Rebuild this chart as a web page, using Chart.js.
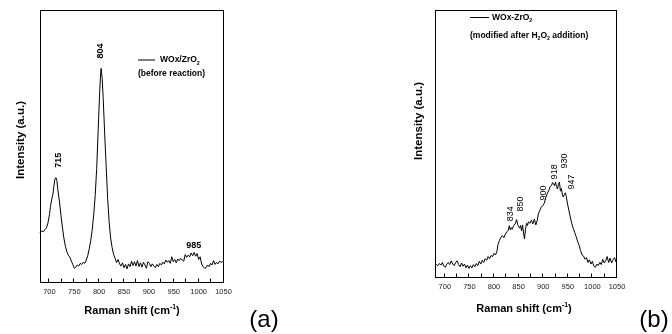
<!DOCTYPE html>
<html><head><meta charset="utf-8">
<script src="https://cdn.jsdelivr.net/npm/chart.js@4.4.1/dist/chart.umd.min.js"></script>
<style>
html,body{margin:0;padding:0;background:#fff;}
#wrap{position:relative;width:672px;height:334px;overflow:hidden;background:#fff;}
.pane{position:absolute;top:0;width:336px;height:334px;}
</style></head><body>
<div id="wrap">
<div class="pane" style="left:0"><canvas id="chartA" width="336" height="334"></canvas></div>
<div class="pane" style="left:336px"><canvas id="chartB" width="336" height="334"></canvas></div>
</div>
<script>
// ---------------- DATA ----------------
const ramanShiftA = [
680,684,688,691,694,697,700,702,705,707,
709,711,713,715,717,720,723,726,729,732,
735,738,741,744,747,750,753,756,759,762,
765,768,771,774,777,780,783,786,789,792,
795,798,801,803,804,806,808,811,814,817,
820,823,826,829,832,835,838,841,844,847,
850,853,856,859,862,865,868,871,874,877,
880,883,886,889,892,895,898,901,904,907,
910,913,916,919,922,925,928,931,934,937,
940,943,946,949,952,955,958,961,964,967,
970,973,976,979,982,985,988,991,994,997,
1000,1003,1006,1009,1012,1015,1018,1021,1024,1027,
1030,1033,1036,1039,1042,1045,1048,1050];
const intensityA = [
18.5,19.0,18.8,19.6,20.2,22.0,25.0,28.0,31.0,32.5,
35.5,38.0,38.6,37.5,34.0,30.0,25.0,20.5,16.5,13.5,
11.5,10.2,9.5,8.0,6.8,5.4,5.8,6.6,6.2,7.2,
6.8,7.6,7.2,8.4,10.0,12.5,15.5,19.5,25.0,32.0,
42.0,56.0,70.0,77.0,78.6,75.0,68.0,55.0,43.0,31.0,
22.5,16.5,13.0,10.5,9.0,7.5,8.6,7.0,6.2,7.4,
5.6,6.8,5.2,7.0,6.0,8.0,6.4,7.8,6.2,8.2,
6.0,7.4,5.8,7.6,6.6,5.4,7.8,7.2,6.0,7.0,
6.2,5.6,6.8,6.0,7.2,6.6,7.6,7.0,8.4,7.6,
8.2,7.2,9.6,7.8,8.6,7.4,8.8,8.2,9.0,8.4,
8.0,10.4,9.4,10.2,9.6,11.0,10.0,11.2,9.8,10.8,
8.6,9.6,7.0,6.0,5.4,5.6,6.6,6.0,7.2,6.6,
8.2,6.8,7.6,7.0,8.0,7.6,7.8,8.0];

const ramanShiftB = [
680,683,686,689,692,695,698,701,704,707,
710,713,716,719,722,725,728,731,734,737,
740,743,746,749,752,755,758,761,764,767,
770,773,776,779,782,785,788,791,794,797,
800,803,806,808,811,814,817,820,823,826,
829,831,833,835,837,840,843,846,848,850,
852,854,856,858,860,862,864,866,868,870,
873,876,879,882,885,888,890,893,896,899,
902,905,908,911,914,917,919,921,923,925,
927,929,931,933,935,937,939,941,943,945,
947,949,952,955,958,961,964,967,970,973,
976,979,982,985,988,991,994,997,1000,1003,
1006,1009,1012,1015,1018,1021,1024,1027,1030,1033,
1036,1039,1042,1045,1048,1050];
const intensityB = [
5.5,5.0,4.6,5.4,4.8,5.8,4.4,4.0,5.2,5.8,
5.0,6.4,5.2,4.6,5.8,6.4,5.0,4.2,5.6,4.4,
5.2,3.8,4.8,3.6,4.6,3.8,5.0,4.2,5.4,4.6,
6.2,5.2,6.6,5.8,7.2,6.6,8.0,7.2,8.4,8.0,
9.2,8.6,10.0,12.5,14.0,15.2,15.8,15.0,16.4,17.2,
17.8,19.5,18.0,18.8,18.2,19.6,20.2,21.8,20.0,19.2,
18.6,19.6,17.6,19.8,16.8,14.6,18.2,20.4,19.6,21.0,
20.4,21.6,20.2,22.0,19.8,21.6,23.8,25.2,26.4,27.0,
27.8,30.0,31.4,32.6,34.0,34.6,35.6,35.2,34.4,35.8,
34.2,33.2,35.0,35.8,32.4,33.4,31.0,30.2,31.2,31.8,
30.4,28.0,25.4,22.8,20.4,18.6,17.0,15.4,13.6,12.2,
10.2,8.6,8.2,7.0,7.6,5.8,6.8,5.2,6.2,4.4,
4.0,5.2,4.6,5.8,5.0,7.0,5.6,6.4,8.0,5.8,
7.4,5.6,6.8,7.6,6.0,7.0];

const xTickLabels = [700, 750, 800, 850, 900, 950, 1000, 1050];
const peakLabelsA = ['715', '804', '985'];
const peakLabelsB = ['834', '850', '900', '918', '930', '947'];

// ---------------- STYLE / LAYOUT ----------------
const FONT = "'Liberation Sans', Arial, Helvetica, sans-serif";

function drawRuns(ctx, x, yc, runs, size, weight, align) {
  const parts = runs.map(r => {
    const s = (r.sub || r.sup) ? size * 0.62 : size;
    ctx.font = `${weight} ${s}px ${FONT}`;
    return { r, s, w: ctx.measureText(r.t).width };
  });
  const total = parts.reduce((a, p) => a + p.w, 0);
  let cx = align === 'center' ? x - total / 2 : x;
  const base = yc + size * 0.35;
  ctx.textAlign = 'left';
  ctx.textBaseline = 'alphabetic';
  parts.forEach(p => {
    ctx.font = `${weight} ${p.s}px ${FONT}`;
    const dy = p.r.sub ? size * 0.28 : (p.r.sup ? -size * 0.42 : 0);
    ctx.fillText(p.r.t, cx, base + dy);
    cx += p.w;
  });
}

const decorPlugin = {
  id: 'decor',
  afterDraw(chart, args, o) {
    const { ctx, chartArea: ca, scales } = chart;
    const xs = scales.x, ys = scales.y;
    ctx.save();
    ctx.fillStyle = '#000';
    ctx.strokeStyle = '#000';
    ctx.lineWidth = 1;
    // frame
    const L = Math.round(ca.left) + 0.5, R = Math.round(ca.right) - 0.5;
    const T = Math.round(ca.top) + 0.5, B = Math.round(ca.bottom) - 0.5;
    ctx.strokeRect(L, T, R - L, B - T);
    // inward ticks every 25
    ctx.beginPath();
    for (let v = 700; v <= 1050; v += 25) {
      const px = Math.round(xs.getPixelForValue(v)) - 0.5;
      ctx.moveTo(px, B);
      ctx.lineTo(px, B - 4);
    }
    ctx.stroke();
    // axis titles
    drawRuns(ctx, o.xTitle.x, o.xTitle.y,
      [{ t: 'Raman shift (cm' }, { t: '-1', sup: true }, { t: ')' }], 11, 'bold', 'center');
    ctx.save();
    ctx.translate(o.yTitle.x, o.yTitle.y);
    ctx.rotate(-Math.PI / 2);
    drawRuns(ctx, 0, 0, [{ t: 'Intensity (a.u.)' }], 11.5, 'bold', 'center');
    ctx.restore();
    // legend
    ctx.beginPath();
    ctx.lineWidth = 1;
    ctx.moveTo(o.legend.x1, o.legend.y + 0.5);
    ctx.lineTo(o.legend.x2, o.legend.y + 0.5);
    ctx.stroke();
    drawRuns(ctx, o.legend.tx, o.legend.y, o.legend.line1, 8.5, 'bold', 'left');
    drawRuns(ctx, o.legend.x1, o.legend.y2, o.legend.line2, 8.5, 'bold', 'left');
    // peak labels
    o.peaks.forEach((p, i) => {
      const px = xs.getPixelForValue(p.x), py = ys.getPixelForValue(p.y);
      ctx.save();
      ctx.translate(px, py);
      if (p.rotate) ctx.rotate(-Math.PI / 2);
      ctx.font = `${o.peakWeight} 9px ${FONT}`;
      ctx.textAlign = 'center';
      ctx.textBaseline = 'middle';
      ctx.fillText(o.peakText[i], 0, 0);
      ctx.restore();
    });
    // panel label
    ctx.font = `24px ${FONT}`;
    ctx.textAlign = 'center';
    ctx.textBaseline = 'middle';
    ctx.fillText(o.panel.text, o.panel.x, o.panel.y);
    ctx.restore();
  }
};

function makeChart(id, xs, ys, lay, decor) {
  return new Chart(document.getElementById(id), {
    type: 'line',
    data: {
      datasets: [{
        data: xs.map((v, i) => ({ x: v, y: ys[i] })),
        borderColor: '#000',
        borderWidth: 1,
        pointRadius: 0,
        tension: 0,
        fill: false
      }]
    },
    options: {
      responsive: false,
      animation: false,
      events: [],
      layout: { padding: { left: 0, top: lay.top, right: lay.right, bottom: 0 } },
      plugins: { legend: { display: false }, tooltip: { enabled: false }, decor },
      scales: {
        x: {
          type: 'linear', min: 680, max: 1050,
          grid: { display: false, drawTicks: false },
          border: { display: false },
          afterBuildTicks: s => { s.ticks = xTickLabels.map(v => ({ value: v })); },
          afterFit: s => { s.height = lay.xHeight; },
          ticks: {
            autoSkip: false, maxRotation: 0, padding: lay.tickPad,
            color: '#222', font: { family: FONT, size: 7.5 },
            callback: v => String(v)
          }
        },
        y: {
          type: 'linear', min: 0, max: 100,
          grid: { display: false, drawTicks: false },
          border: { display: false },
          ticks: { display: false },
          afterFit: s => { s.width = lay.yWidth; }
        }
      }
    },
    plugins: [decorPlugin]
  });
}

makeChart('chartA', ramanShiftA, intensityA,
  { top: 10, right: 112.5, xHeight: 51, yWidth: 39.5, tickPad: 4 },
  {
    xTitle: { x: 132, y: 310 },
    yTitle: { x: 20, y: 140 },
    legend: {
      x1: 138, x2: 155, y: 59.5, tx: 160, y2: 73.3,
      line1: [{ t: 'WOx/ZrO' }, { t: '2', sub: true }],
      line2: [{ t: '(before reaction)' }]
    },
    peakText: peakLabelsA,
    peakWeight: 'bold',
    peaks: [{ x: 719, y: 45, rotate: true }, { x: 803.5, y: 85, rotate: true }, { x: 990, y: 13.7, rotate: false }],
    panel: { text: '(a)', x: 264, y: 320 }
  });

makeChart('chartB', ramanShiftB, intensityB,
  { top: 10, right: 55, xHeight: 56, yWidth: 99, tickPad: 4.5 },
  {
    xTitle: { x: 188, y: 308 },
    yTitle: { x: 82, y: 121 },
    legend: {
      x1: 134, x2: 153, y: 17, tx: 156, y2: 35,
      line1: [{ t: 'WOx-ZrO' }, { t: '2', sub: true }],
      line2: [{ t: '(modified after H' }, { t: '2', sub: true }, { t: 'O' }, { t: '2', sub: true }, { t: ' addition)' }]
    },
    peakText: peakLabelsB,
    peakWeight: 'normal',
    peaks: [{ x: 832.8, y: 24, rotate: true }, { x: 853.3, y: 27.6, rotate: true }, { x: 900.9, y: 31.7, rotate: true },
            { x: 922.8, y: 39.6, rotate: true }, { x: 942.4, y: 43.7, rotate: true }, { x: 958.1, y: 35.8, rotate: true }],
    panel: { text: '(b)', x: 318, y: 320 }
  });
</script>
</body></html>
